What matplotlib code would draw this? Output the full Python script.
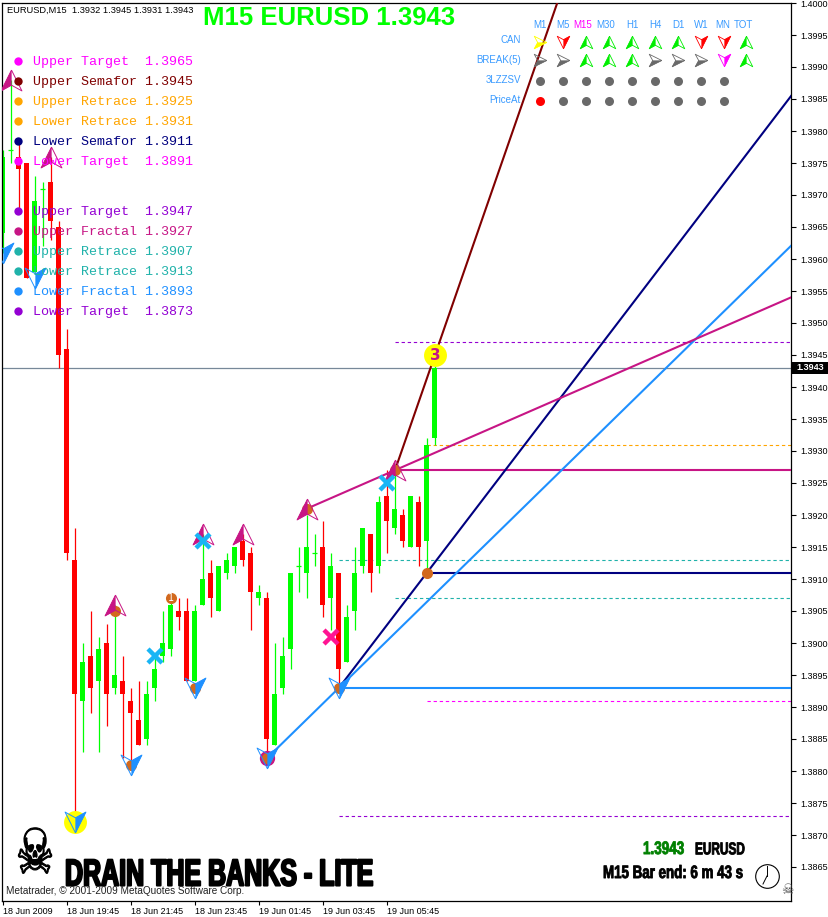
import matplotlib
matplotlib.use("Agg")
import matplotlib.pyplot as plt
from matplotlib.path import Path
from matplotlib.patches import Rectangle
from matplotlib.transforms import Affine2D
import matplotlib.patheffects as pe

W, H = 829, 917
DPI = 100

opens = [1.3964,1.3977,1.3976,1.3975,1.3958,1.3971,1.3972,1.3965,1.3946,1.3913,
         1.3891,1.3898,1.3894,1.3900,1.3893,1.3894,1.3891,1.3888,1.3885,1.3893,
         1.3898,1.3899,1.3905,1.3905,1.3894,1.3906,1.3911,1.3905,1.3911,1.3912,
         1.3916,1.3914,1.3907,1.3907,1.3884,1.3893,1.3899,1.3912,1.3911,1.3914,
         1.3915,1.3907,1.3911,1.3897,1.3905,1.3912,1.3917,1.3912,1.3923,1.3918,
         1.3920,1.3915,1.3922,1.3916,1.3932]
highs = [1.3977,1.3988,1.3978,1.3975,1.3973,1.3972,1.3976,1.3966,1.3949,1.3918,
         1.3900,1.3905,1.3901,1.3903,1.3906,1.3898,1.3893,1.3894,1.3894,1.3898,
         1.3905,1.3907,1.3907,1.3907,1.3906,1.3917,1.3913,1.3912,1.3914,1.3915,
         1.3917,1.3915,1.3909,1.3908,1.3900,1.3901,1.3911,1.3915,1.3920,1.3917,
         1.3919,1.3914,1.3911,1.3906,1.3915,1.3918,1.3917,1.3923,1.3927,1.3928,
         1.3921,1.3923,1.3923,1.3932,1.3945]
lows = [1.3961,1.3975,1.3967,1.3957,1.3958,1.3962,1.3963,1.3943,1.3913,1.3873,
        1.3883,1.3889,1.3883,1.3887,1.3892,1.3882,1.3881,1.3884,1.3884,1.3891,
        1.3897,1.3898,1.3902,1.3894,1.3894,1.3906,1.3904,1.3905,1.3910,1.3911,
        1.3912,1.3902,1.3906,1.3883,1.3884,1.3892,1.3896,1.3908,1.3907,1.3912,
        1.3904,1.3902,1.3893,1.3897,1.3902,1.3911,1.3908,1.3911,1.3914,1.3917,
        1.3915,1.3915,1.3912,1.3911,1.3931]
closes = [1.3976,1.3977,1.3974,1.3957,1.3969,1.3971,1.3966,1.3945,1.3914,1.3892,
          1.3897,1.3893,1.3899,1.3892,1.3895,1.3892,1.3889,1.3884,1.3892,1.3896,
          1.3900,1.3906,1.3904,1.3894,1.3905,1.3910,1.3907,1.3912,1.3913,1.3915,
          1.3913,1.3908,1.3908,1.3885,1.3892,1.3898,1.3911,1.3912,1.3915,1.3914,
          1.3906,1.3912,1.3896,1.3904,1.3911,1.3918,1.3911,1.3922,1.3919,1.3921,
          1.3916,1.3923,1.3915,1.3931,1.3943]

time_labels = ["18 Jun 2009","18 Jun 19:45","18 Jun 21:45","18 Jun 23:45",
               "19 Jun 01:45","19 Jun 03:45","19 Jun 05:45"]
time_bars = [0, 8, 16, 24, 32, 40, 48]
price_ticks = [1.4000,1.3995,1.3990,1.3985,1.3980,1.3975,1.3970,1.3965,1.3960,1.3955,
               1.3950,1.3945,1.3940,1.3935,1.3930,1.3925,1.3920,1.3915,1.3910,1.3905,
               1.3900,1.3895,1.3890,1.3885,1.3880,1.3875,1.3870,1.3865]

current_price = 1.3943

up_bar = [1, 6, 14, 25, 30, 38, 49]
up_price = [1.3988, 1.3976, 1.3906, 1.3917, 1.3917, 1.3921, 1.3927]
down_bar = [0, 4, 9, 16, 24, 33, 42]
down_price = [1.3961, 1.3957, 1.3872, 1.3881, 1.3893, 1.3882, 1.3893]
dot_bar = [14, 21, 24, 16, 38, 42, 53, 49, 33]
dot_price = [1.3905, 1.3907, 1.3893, 1.3881, 1.3921, 1.3893, 1.3911, 1.3927, 1.3882]
ring_bar = [54, 9]
ring_price = [1.3945, 1.3872]
blue_x_bar = [19, 25, 48]
blue_x_price = [1.3898, 1.3916, 1.3925]
pink_x_bar = [41]
pink_x_price = [1.3901]

dashed_start = [49, 53, 42, 49, 53, 42]
dashed_price = [1.3947, 1.3931, 1.3913, 1.3907, 1.3891, 1.3873]
dashed_color = ["#9400d3", "#ffa500", "#20b2aa", "#20b2aa", "#ff00ff", "#9400d3"]
solid_start = [49, 53, 42]
solid_price = [1.3927, 1.3911, 1.3893]
solid_color = ["#c71585", "#000080", "#1e90ff"]

trend_bars = [(49, 54), (42, 53), (33, 42), (38, 49)]
trend_prices = [(1.3927, 1.3945), (1.3893, 1.3911), (1.3882, 1.3893), (1.3921, 1.3927)]
trend_color = ["#800000", "#000080", "#1e90ff", "#c71585"]

legend_rows = ["Upper Target  1.3965","Upper Semafor 1.3945","Upper Retrace 1.3925",
               "Lower Retrace 1.3931","Lower Semafor 1.3911","Lower Target  1.3891",
               "Upper Target  1.3947","Upper Fractal 1.3927","Upper Retrace 1.3907",
               "Lower Retrace 1.3913","Lower Fractal 1.3893","Lower Target  1.3873"]
legend_color = ["#ff00ff","#800000","#ffa500","#ffa500","#000080","#ff00ff",
                "#9400d3","#c71585","#20b2aa","#20b2aa","#1e90ff","#9400d3"]
legend_y = [61,81,101,121,141,161,211,231,251,271,291,311]

tf_labels = ["M1","M5","M15","M30","H1","H4","D1","W1","MN","TOT"]
tf_x = [540,563,583,606,632,655,678,701,723,743]
sym_x = [540,563,586,609,632,655,678,701,724,746]
row_labels = ["CAN","BREAK(5)","3LZZSV","PriceAt"]
row_y = [40,60,80,100]
can_state = ["flat_y","dn_r","up","up","up","up","up","dn_r","dn_r","up"]
brk_state = ["flat","flat","up","up","up","flat","flat","flat","dn_m","up"]
zz_color = ["#696969"]*9
at_color = ["#ff0000"]+["#696969"]*8


class Tall(pe.AbstractPathEffect):
    """Stretch text vertically about a screen row (the bold condensed look)."""
    def __init__(self, y_px, factor, stroke=0.0):
        super().__init__()
        self.y0 = H - y_px
        self.k = factor
        self.stroke = stroke

    def draw_path(self, renderer, gc, tpath, affine, rgbFace=None):
        a = affine + Affine2D().translate(0, -self.y0).scale(1, self.k).translate(0, self.y0)
        if self.stroke:
            g = renderer.new_gc()
            g.copy_properties(gc)
            g.set_linewidth(self.stroke)
            g.set_foreground(rgbFace)
            renderer.draw_path(g, tpath, a, rgbFace)
            g.restore()
        else:
            renderer.draw_path(gc, tpath, a, rgbFace)


fig = plt.figure(figsize=(W/DPI, H/DPI), dpi=DPI, facecolor="white")
L, R, T, B = 2.5, 791.5, 2.5, 900.5
ax = fig.add_axes([L/W, 1-B/H, (R-L)/W, (B-T)/H])
PX_BAR = 8.0
PX_PRICE = 64000.0
ax.set_xlim((L-3)/PX_BAR, (R-3)/PX_BAR)
ax.set_ylim(1.4-(B-3)/PX_PRICE, 1.4-(T-3)/PX_PRICE)
for s in ax.spines.values():
    s.set_linewidth(0.9)

UI = "Liberation Sans"
ax.set_xticks(time_bars)
ax.set_xticklabels(time_labels, ha="left", fontsize=6.5, family=UI)
ax.yaxis.tick_right()
ax.set_yticks(price_ticks)
ax.set_yticklabels([f"{p:.4f}" for p in price_ticks], fontsize=6.5, family=UI)
ax.tick_params(axis="x", length=3, width=0.8, pad=1.5)
ax.tick_params(axis="y", length=3.5, width=0.8, pad=2.5)

# price line
ax.axhline(current_price, color="#778899", lw=0.9, zorder=1)

# levels
xr = ax.get_xlim()[1]
for s_, p, c in zip(dashed_start, dashed_price, dashed_color):
    ax.hlines(p, s_, xr, colors=c, lw=0.8, linestyles=(0, (3, 2.5)), zorder=1)

# candles
xs = list(range(len(opens)))
body_w = 5/PX_BAR
for x, o, h, l, c in zip(xs, opens, highs, lows, closes):
    col = "#00ff00" if c >= o else "#ff0000"
    ax.vlines(x, l, h, colors=col, lw=0.9, zorder=2)
    if c == o:
        ax.hlines(c, x-body_w/2, x+body_w/2, colors=col, lw=0.9, zorder=2)
    else:
        ax.bar(x, abs(c-o), bottom=min(o, c), width=body_w, color=col, lw=0, zorder=2)

for s_, p, c in zip(solid_start, solid_price, solid_color):
    ax.hlines(p, s_, xr, colors=c, lw=1.5, zorder=3)

# trend lines extended through their two anchor pivots
ylim = ax.get_ylim()
for (x0, x1), (p0, p1), c in zip(trend_bars, trend_prices, trend_color):
    ax.plot([x0, xr], [p0, p0 + (p1-p0)/(x1-x0)*(xr-x0)], color=c, lw=1.5, zorder=3)
ax.set_ylim(ylim)

# arrow glyph shapes
up_outline = Path([(0,1),(-1,-1),(0,-.45),(1,-1),(0,1)])
up_half = Path([(0,1),(-1,-1),(0,-.45),(0,1)])
dn_outline = Path([(0,-1),(-1,1),(0,.45),(1,1),(0,-1)])
dn_half = Path([(0,-1),(1,1),(0,.45),(0,-1)])
rt_outline = Path([(1,0),(-1,1),(-.45,0),(-1,-1),(1,0)])
rt_half = Path([(1,0),(-1,-1),(-.45,0),(1,0)])

ax.plot(ring_bar, ring_price, "o", ms=16.5, color="#ffff00", mew=0, zorder=4)
ax.plot([33], [1.3882], "o", ms=11, color="#c71585", mew=0, zorder=4)
ax.plot(dot_bar, dot_price, "o", ms=8, color="#d2691e", mew=0, zorder=5)
ax.text(21, 1.3907, "1", color="white", ha="center", va="center", fontsize=7, zorder=6)
ax.text(54, 1.3945, "3", color="#c71585", ha="center", va="center", fontsize=11, fontweight="bold", zorder=7)

def glyph(bar, price, outline, half, color, size=15):
    ax.plot(bar, price, ls="", marker=outline, ms=size, mfc="none", mec=color, mew=0.7, zorder=6, clip_on=True)
    ax.plot(bar, price, ls="", marker=half, ms=size, mfc=color, mec=color, mew=0.2, zorder=6, clip_on=True)

glyph(up_bar, up_price, up_outline, up_half, "#c71585")
glyph(down_bar, down_price, dn_outline, dn_half, "#1e90ff")
ax.plot(blue_x_bar, blue_x_price, ls="", marker="x", ms=10.5, mew=3.2, color="#19b5f5", zorder=7)
ax.plot(pink_x_bar, pink_x_price, ls="", marker="x", ms=10.5, mew=3.2, color="#ff1493", zorder=7)

# overlay axes in screen pixels
ov = fig.add_axes([0, 0, 1, 1], facecolor="none")
ov.set_xlim(0, W); ov.set_ylim(H, 0); ov.axis("off")

# price box
ov.add_patch(Rectangle((792, 362), 37, 12, color="black", lw=0, zorder=2))
ov.text(810.5, 368, f"{current_price:.4f}", color="white", fontsize=6.5, ha="center", va="center", fontweight="bold", zorder=3, family=UI)

# header
ov.text(7, 10.5, "EURUSD,M15  1.3932 1.3945 1.3931 1.3943", fontsize=6.7, va="center", family=UI, color="black")
ov.text(329.5, 18, "M15 EURUSD 1.3943", fontsize=18.5, fontweight="bold", color="#00ff00", ha="center", va="center", family="Liberation Sans")

# level legend
for t, c, y in zip(legend_rows, legend_color, legend_y):
    ov.plot(18, y, "o", ms=6, color=c, mew=0)
    ov.text(33, y + 0.7, t, color=c, fontsize=9.6, va="center", family="Liberation Mono")

# signal panel
for t, x in zip(tf_labels, tf_x):
    ov.text(x, 25, t, fontsize=7, color="#ff00ff" if t == "M15" else "#3a9bff", ha="center", va="center", family=UI)
for t, y in zip(row_labels, row_y):
    ov.text(521, y, t, fontsize=7, color="#3a9bff", ha="right", va="center", family=UI)

shape = {"up": (up_outline, up_half, "#00ee00"), "dn_r": (dn_outline, dn_half, "#ff0000"),
         "dn_m": (dn_outline, dn_half, "#ff00ff"), "flat": (rt_outline, rt_half, "#696969"),
         "flat_y": (rt_outline, rt_half, "#ffff00")}
for row, y in zip((can_state, brk_state), (42, 60)):
    for st, x in zip(row, sym_x):
        o_, h_, c = shape[st]
        ov.plot(x, y, marker=o_, ms=9, mfc="none", mec=c, mew=0.6)
        ov.plot(x, y, marker=h_, ms=9, mfc=c, mec=c, mew=0.2)
for c, x in zip(zz_color, sym_x):
    ov.plot(x, 81, "o", ms=6.5, color=c, mew=0)
for c, x in zip(at_color, sym_x):
    ov.plot(x, 101, "o", ms=6.5, color=c, mew=0)

# branding
ov.text(35, 856, "\u2620", fontsize=31, ha="center", va="center", family="DejaVu Sans", color="black",
        path_effects=[Tall(856, 1.45, stroke=0.8)])
ov.text(65, 875, "DRAIN THE BANKS - LITE", fontsize=18, fontweight="bold", va="center",
        family="Liberation Sans", color="black", path_effects=[Tall(875, 1.5, stroke=1.5)])
ov.text(6, 891, "Metatrader, \u00a9 2001-2009 MetaQuotes Software Corp.", fontsize=7.2, va="center", color="#222222", family=UI)
ov.text(643, 850, "1.3943", fontsize=9.7, fontweight="bold", color="#008000", va="center", family=UI,
        path_effects=[Tall(850, 1.35, stroke=0.6)])
ov.text(695, 850, "EURUSD", fontsize=8.5, fontweight="bold", color="black", va="center", family=UI,
        path_effects=[Tall(850, 1.45, stroke=0.6)])
ov.text(603, 874, "M15 Bar end: 6 m 43 s", fontsize=9.6, fontweight="bold", color="black", va="center", family=UI,
        path_effects=[Tall(874, 1.35, stroke=0.6)])

# clock
ov.plot(767, 876, "o", ms=17, mfc="white", mec="black", mew=0.8)
ov.plot([767, 767], [876, 866], color="black", lw=0.7)
ov.plot([767, 763], [876, 884], color="black", lw=0.7)
ov.text(787, 890, "\u2620", fontsize=10, ha="center", va="center", family="DejaVu Sans", color="#555555")

fig.savefig("out.png", dpi=DPI, facecolor="white")
